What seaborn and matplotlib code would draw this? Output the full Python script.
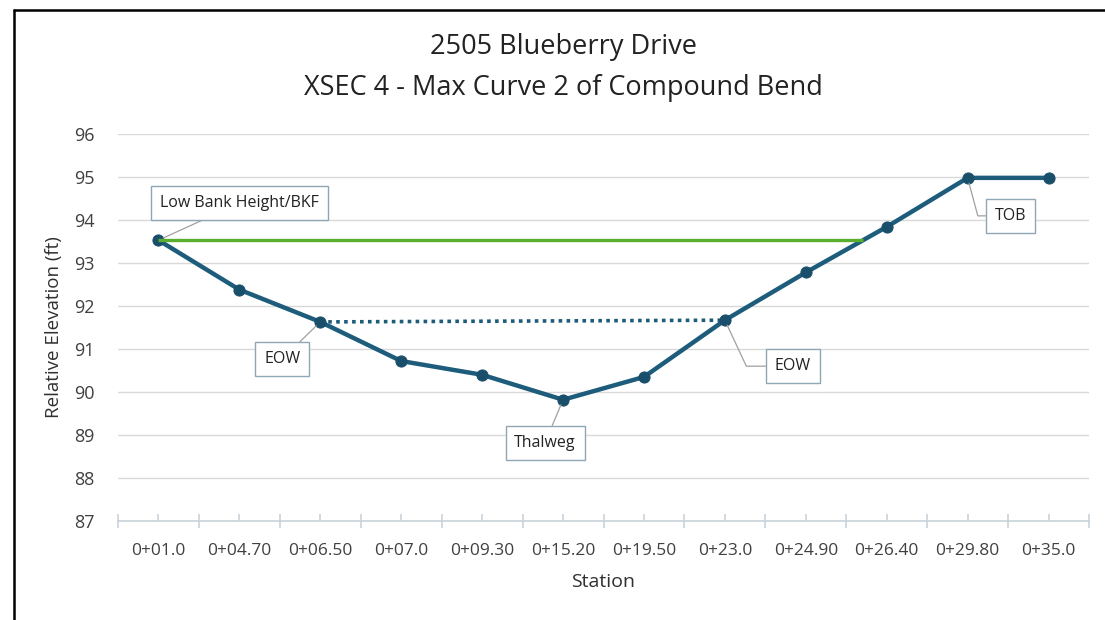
import numpy as np
import pandas as pd
import matplotlib
matplotlib.use("Agg")
import matplotlib.pyplot as plt
from matplotlib.lines import Line2D
import seaborn as sns

stations = ["0+01.0", "0+04.70", "0+06.50", "0+07.0", "0+09.30", "0+15.20",
            "0+19.50", "0+23.0", "0+24.90", "0+26.40", "0+29.80", "0+35.0"]
elevation = [93.53, 92.38, 91.63, 90.72, 90.40, 89.82,
             90.35, 91.67, 92.78, 93.84, 94.98, 94.98]
bkf_level = 93.53
eow_idx = [2, 7]
labels = ["Low Bank Height/BKF", "EOW", "Thalweg", "EOW", "TOB"]
label_idx = [0, 2, 5, 7, 10]

sns.set_theme(style="white")
plt.rcParams['font.family'] = ['Open Sans', 'DejaVu Sans']

BLUE = "#1E5C7C"
MARK = "#1A4F6C"
GREEN = "#5AAE2E"

fig = plt.figure(figsize=(11.05, 6.2), dpi=100)
ax = fig.add_axes([118/1105, 1-521/620, (1089-118)/1105, (521-134)/620])

xs = np.arange(len(stations))
df = pd.DataFrame({"x": xs, "y": elevation})

# BKF line: from first station to where the right bank reaches the level
i = next(k for k in range(1, len(elevation)) if elevation[k-1] < bkf_level <= elevation[k] and k > 5)
frac = (bkf_level - elevation[i-1]) / (elevation[i] - elevation[i-1])
x_end = (i - 1) + frac
ax.plot([0, x_end], [bkf_level, bkf_level], color=GREEN, lw=2.4, zorder=4, solid_capstyle="butt")

# water surface (dotted)
ax.plot([eow_idx[0], eow_idx[1]], [elevation[eow_idx[0]], elevation[eow_idx[1]]],
        color=BLUE, lw=2.6, ls=(0, (1, 1.2)), zorder=3)

sns.lineplot(data=df, x="x", y="y", ax=ax, color=BLUE, lw=3.2, marker="o",
             markersize=8, markerfacecolor=MARK, markeredgecolor=MARK, zorder=3)

ax.set_xlim(-0.5, len(stations) - 0.5)
ax.set_ylim(87, 96)
ax.set_yticks(np.arange(87, 97, 1))
ax.yaxis.grid(True, color="#D9D9D9", lw=1)
ax.xaxis.grid(False)
for s in ["top", "right", "left"]:
    ax.spines[s].set_visible(False)
ax.spines["bottom"].set_color("#C8D3DA")
ax.spines["bottom"].set_linewidth(1.2)

ax.set_xticks(np.arange(-0.5, len(stations), 1.0))
ax.set_xticklabels([])
ax.set_xticks(xs, minor=True)
ax.set_xticklabels(stations, minor=True)
ax.tick_params(axis="x", which="major", direction="inout", length=10, color="#C8D3DA", width=1.2, bottom=True)
ax.tick_params(axis="x", which="minor", direction="in", length=5, color="#C8D3DA", width=1.2, bottom=True,
               pad=16, labelsize=12.5, labelcolor="#404040")
ax.tick_params(axis="y", length=0, pad=17, labelsize=13, labelcolor="#404040")

ax.set_xlabel("Station", fontsize=14, color="#303030", labelpad=10)
ax.set_ylabel("Relative Elevation (ft)", fontsize=13.5, color="#303030", labelpad=8)

fig.text(563/1105, 1-47/620, "2505 Blueberry Drive", ha="center", va="center", fontsize=19.5, color="#222222")
fig.text(563/1105, 1-88/620, "XSEC 4 - Max Curve 2 of Compound Bend", ha="center", va="center", fontsize=19.5, color="#222222")

# annotations (text offsets in display px)
offsets = [(81, 37), (-38, -37), (-18, -43), (68, -46), (43, -38)]
styles = ["arc3", "arc3", "arc3", "angle,angleA=0,angleB=115,rad=0", "angle,angleA=0,angleB=105,rad=0"]
for lab, idx, off, cs in zip(labels, label_idx, offsets, styles):
    ax.annotate(lab, xy=(idx, elevation[idx]), xytext=off, textcoords="offset pixels",
                ha="center", va="center", fontsize=11.5, color="#222222", zorder=6,
                bbox=dict(boxstyle="square,pad=0.55", fc="white", ec="#8FA6B5", lw=1),
                arrowprops=dict(arrowstyle="-", color="#A0A0A0", lw=0.9, shrinkA=0, shrinkB=4,
                                connectionstyle=cs))

# frame lines of the picture
fig.add_artist(Line2D([14/1105, 14/1105], [0, 1-10/620], color="black", lw=1.8, transform=fig.transFigure))
fig.add_artist(Line2D([14/1105, 1], [1-10/620, 1-10/620], color="black", lw=1.8, transform=fig.transFigure))

fig.savefig("out.png", dpi=100, facecolor="white")
